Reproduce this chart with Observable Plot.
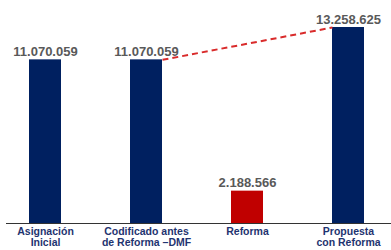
<!DOCTYPE html>
<html>
<head>
<meta charset="utf-8">
<script src="https://cdn.jsdelivr.net/npm/d3@7"></script>
<script src="https://cdn.jsdelivr.net/npm/@observablehq/plot@0.6"></script>
<style>
  html, body { margin: 0; padding: 0; background: #fff; }
  #chart svg { display: block; }
</style>
</head>
<body>
<div id="chart"></div>
<script>
const categories = ["Asignación\nInicial", "Codificado antes\nde Reforma –DMF", "Reforma", "Propuesta\ncon Reforma"];
const values = [11070059, 11070059, 2188566, 13258625];
const barColors = ["#002060", "#002060", "#C00000", "#002060"];
const trendFrom = 1; // index of "Codificado"
const trendTo = 3;   // index of "Propuesta"

const data = categories.map((c, i) => ({category: c, value: values[i], color: barColors[i]}));
const trend = [{
  a: categories[trendFrom], b: categories[trendTo],
  va: values[trendFrom], vb: values[trendTo]
}];

const fmt = d3.formatLocale({decimal: ",", thousands: ".", grouping: [3], currency: ["", ""]}).format(",d");

const plot = Plot.plot({
  width: 391,
  height: 250,
  marginTop: 27,
  marginBottom: 27,
  marginLeft: 6,
  marginRight: 0,
  style: {fontFamily: "'Liberation Sans', Arial, sans-serif", background: "#fff"},
  x: {domain: categories, axis: null, paddingInner: 0.685, paddingOuter: 0.235, align: 0.46},
  y: {domain: [0, d3.max(values)], axis: null},
  marks: [
    Plot.barY(data, {x: "category", y: "value", fill: "color"}),
    Plot.link(trend, {
      x1: "a", x2: "b", y1: "va", y2: "vb",
      stroke: "#D92B2B", strokeWidth: 2, strokeDasharray: "6,4",
      render(index, scales, vals, dims, ctx, next) {
        const bw = scales.x && scales.x.bandwidth ? scales.x.bandwidth() : 0;
        const v = Object.assign({}, vals, {
          x1: Array.from(vals.x1, x => x + bw / 2),
          x2: Array.from(vals.x2, x => x - bw / 2)
        });
        return next(index, scales, v, dims, ctx);
      }
    }),
    Plot.ruleY([0], {stroke: "#333", strokeWidth: 1}),
    Plot.text(data, {
      x: "category", y: "value", text: d => fmt(d.value),
      lineAnchor: "bottom", dy: -4,
      fontSize: 13, fontWeight: "bold", fill: "#595959"
    }),
    Plot.text(data, {
      x: "category", y: () => 0, text: "category",
      lineAnchor: "top", dy: 4, lineHeight: 1.05,
      fontSize: 10.5, fontWeight: "bold", fill: "#1F3470"
    })
  ]
});
document.getElementById("chart").appendChild(plot);
</script>
</body>
</html>
